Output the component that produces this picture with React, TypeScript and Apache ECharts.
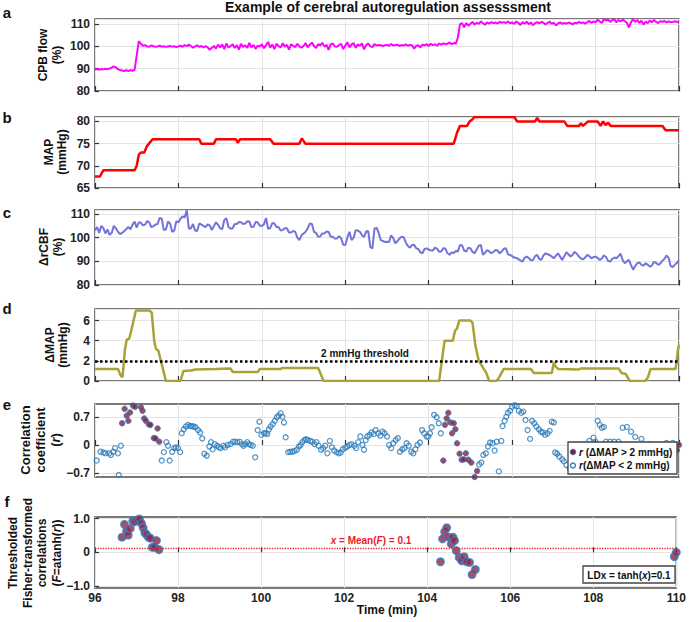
import React, { useEffect, useRef } from "react";
import * as echarts from "echarts";

const FONT = '"Liberation Sans", Arial, Helvetica, sans-serif';

const TIME_MIN = 96;
const TIME_MAX = 110;

// a: CPB flow (%), sampled every 0.05 min from 96
const cpbStep = 0.05;
const cpbFlow = [
  89.6, 89.8, 89.5, 89.9, 89.7, 90.0, 89.8, 90.1, 90.5, 91.0, 90.6, 89.8, 89.4, 89.2, 89.0, 89.3, 88.9, 89.4, 89.1, 89.5,
  96.0, 102.4, 101.2, 100.3, 100.6, 100.0, 99.9, 100.4, 100.1, 99.8, 100.0, 100.3, 99.9, 100.1, 99.8, 100.0, 100.2, 99.9, 100.1, 99.7,
  100.0, 100.3, 99.8, 100.6, 100.1, 100.8, 100.2, 99.4, 100.0, 100.5, 99.8, 100.2, 99.5, 100.1, 99.6, 98.5, 99.4, 100.2, 99.0, 100.8,
  99.6, 100.9, 98.8, 101.3, 99.5, 100.2, 101.0, 99.3, 100.6, 98.6, 101.2, 99.8, 100.5, 99.3, 101.6, 99.6, 100.7, 98.9, 100.4, 99.9,
  101.0, 99.2, 100.6, 102.0, 99.4, 100.9, 98.8, 101.2, 100.2, 99.5, 101.4, 99.9, 100.7, 98.6, 101.0, 100.3, 99.7, 101.2, 100.0, 99.4,
  100.2, 101.5, 99.6, 100.8, 101.7, 100.2, 99.3, 101.0, 100.5, 101.6, 99.9, 100.7, 98.4, 100.9, 101.3, 100.0, 99.8, 100.6, 101.2, 98.8,
  100.4, 101.8, 99.6, 100.9, 101.5, 99.3, 101.0, 100.2, 101.4, 98.7, 100.6, 101.3, 100.0, 99.7, 101.0, 100.4, 100.6, 100.5, 100.2, 100.5,
  100.7, 100.3, 101.1, 100.4, 100.6, 100.8, 100.2, 100.6, 100.4, 100.9, 100.3, 100.7, 100.5, 99.0, 100.2, 100.6, 99.5, 100.8, 100.5, 101.0,
  100.2, 101.2, 100.6, 101.0, 100.3, 101.3, 100.8, 101.4, 101.0, 101.2, 101.8, 101.0, 101.5, 101.3, 104.0, 110.0, 110.4, 108.6, 110.5, 109.3,
  110.2, 111.0, 109.8, 110.6, 110.1, 111.2, 110.4, 109.7, 110.8, 110.2, 110.9, 110.4, 110.7, 110.3, 111.0, 110.6, 110.9, 110.5, 111.2, 110.4,
  110.8, 110.1, 111.2, 110.5, 109.6, 110.9, 110.2, 111.1, 110.0, 110.7, 109.5, 110.4, 110.9, 110.3, 111.0, 110.6, 109.8, 110.5, 111.1, 110.2,
  110.6, 109.4, 110.3, 110.8, 110.1, 110.5, 110.2, 110.7, 110.4, 109.9, 110.6, 110.3, 111.0, 110.5, 110.8, 110.2, 110.9, 111.4, 110.6, 111.2,
  110.8, 112.0, 111.2, 110.5, 112.3, 111.6, 112.0, 111.0, 111.8, 112.2, 110.8, 111.9, 111.2, 112.0, 111.3, 110.6, 108.5, 110.9, 112.1, 111.0,
  111.8, 110.6, 111.5, 109.8, 111.2, 110.4, 111.6, 110.8, 111.9, 111.0, 110.5, 111.3, 111.0, 111.4, 110.8, 111.2, 111.0, 110.9, 111.3, 111.0,
  111.2,
];

// b: MAP (mmHg), step-wise [time, value]
const mapSeries = [
  [96.0, 67.6], [96.12, 67.6], [96.2, 69], [96.95, 69], [97.0, 70], [97.05, 72.5], [97.1, 73], [97.18, 73],
  [97.25, 74.5], [97.38, 76], [98.5, 76], [98.55, 75], [98.85, 75], [98.9, 76], [99.38, 76], [99.42, 75.2],
  [99.48, 76], [100.2, 76], [100.28, 75], [100.9, 75], [100.96, 76.2], [101.04, 75], [104.6, 75], [104.68, 77.5],
  [104.75, 79], [104.92, 79], [104.98, 80], [105.05, 80.5], [105.1, 81], [106.05, 81], [106.12, 80], [106.55, 80],
  [106.6, 80.8], [106.65, 80], [107.25, 80], [107.32, 79], [107.6, 79], [107.65, 79.6], [107.7, 79], [107.82, 80],
  [108.05, 80], [108.12, 79], [108.18, 80], [108.24, 79.2], [108.3, 79.7], [108.36, 79], [109.6, 79], [109.68, 78],
  [110.0, 78],
];

// c: ΔrCBF (%), sampled every 0.05 min from 96
const rcbfStep = 0.05;
const rcbf = [
  103, 104.5, 102, 105, 104, 101.8, 103.5, 101.2, 102, 105, 104, 102.5, 101.5, 102, 102.8, 103.6, 104.5, 103.5, 105.5, 106.8,
  104.2, 106.5, 106.3, 105.2, 105.5, 107, 106.5, 104.5, 104.8, 105.6, 105.8, 108.4, 108, 103.2, 103.5, 106.8, 106, 102.5, 103, 107,
  106.5, 108, 109, 108.5, 111.7, 103.8, 104, 105.8, 103, 102.8, 106, 105.5, 105, 104.4, 105.6, 105.2, 103.2, 104.8, 106.5, 105.5,
  104, 103.6, 107.5, 108.2, 104.5, 103.8, 104, 105.8, 105.8, 106.6, 106.5, 105.8, 106, 106.9, 106.8, 104.5, 104.6, 106.6, 106.5, 105,
  105, 105.6, 108.3, 103.8, 104, 106.2, 106, 104.5, 104.5, 103, 103.2, 104, 104, 102.2, 102.2, 102.8, 102.5, 100, 99, 101,
  101.8, 102.5, 104, 106, 105.8, 102.5, 102, 100.4, 100.5, 101.8, 101.8, 102.6, 102.4, 100.4, 100.4, 99.6, 99.7, 100.6, 99.8, 97,
  96.9, 100, 102.5, 99, 100, 103.2, 103, 102.5, 101, 100.3, 102.6, 102.8, 96, 95.5, 103.8, 104.2, 102, 99, 98.6, 98.2,
  98.3, 98.2, 101, 99.8, 97.6, 98.5, 99.7, 100.4, 100.2, 98, 96.5, 95.8, 96.9, 97, 95.5, 95.2, 93.8, 93.4, 95.2, 95.5,
  95, 94.6, 94.6, 95.8, 95.3, 94, 94.2, 95.5, 95.4, 93.4, 92.8, 93.8, 93.5, 94.4, 94.2, 96.9, 96.8, 94.5, 94.1, 95.8,
  95.5, 94, 93.4, 95, 96.6, 96.9, 92.8, 93.6, 94.8, 94.2, 93.4, 94, 94.8, 94.6, 93.4, 94.2, 95.3, 95.6, 93, 92.7,
  92.2, 91.6, 91.4, 91, 90.3, 89.9, 91.5, 92, 91.4, 90.4, 90.6, 92.2, 92.7, 91, 90.6, 92.5, 93.4, 93, 92.7, 92,
  91.3, 92.4, 93.4, 92, 90.6, 92.2, 93.8, 93, 92, 92.8, 94, 93.2, 92, 91.2, 90.8, 91.6, 92.7, 92.2, 91.3, 91.8,
  92, 91.4, 90.6, 91.2, 92.5, 91.8, 90.2, 89.9, 91, 91.6, 91.3, 92.2, 93.2, 90.5, 89.2, 90, 90.6, 88.4, 86.5, 88,
  89.2, 89.5, 88.5, 88.2, 89.2, 88.6, 87.8, 88.2, 89.8, 89.4, 88.5, 89, 90.2, 91, 92.5, 91.5, 88, 87.6, 88.5, 89.4,
  90.5,
];

// d: ΔMAP (mmHg) [time, value]
const dmapSeries = [
  [96.0, 1.2], [96.55, 1.2], [96.62, 0.5], [96.66, 0.4], [96.72, 3.2], [96.76, 4.1], [96.82, 4.2], [96.88, 5.2],
  [96.98, 7.0], [97.3, 7.0], [97.36, 6.8], [97.42, 4.0], [97.46, 3.2], [97.52, 3.0], [97.58, 2.0], [97.7, 0.0],
  [98.05, 0.0], [98.12, 1.0], [98.3, 1.05], [98.4, 1.15], [98.9, 1.2], [99.25, 1.25], [99.3, 0.9], [99.9, 0.9],
  [99.95, 1.2], [100.45, 1.2], [100.5, 1.3], [101.35, 1.3], [101.48, 0.0], [104.25, 0.0], [104.38, 4.0], [104.58, 4.0],
  [104.63, 5.0], [104.68, 5.2], [104.73, 6.0], [105.0, 6.0], [105.05, 5.8], [105.12, 3.5], [105.2, 2.0], [105.32, 1.2],
  [105.38, 0.8], [105.45, 0.0], [105.62, 0.0], [105.68, 0.3], [105.8, 1.2], [106.45, 1.2], [106.52, 0.8], [106.95, 0.8],
  [107.0, 1.8], [107.05, 1.4], [107.1, 1.2], [107.6, 1.15], [107.65, 1.25], [108.55, 1.25], [108.62, 0.8], [108.72, 0.7],
  [108.82, 0.0], [109.18, 0.0], [109.25, 0.3], [109.32, 1.2], [109.92, 1.2], [109.97, 3.0], [110.0, 3.6],
];
const THRESHOLD = 2;

// e: correlation coefficient r
const rLow = [
  [96.04, -0.39], [96.13, -0.17], [96.2, -0.19], [96.25, -0.21], [96.34, -0.21], [96.38, -0.25], [96.44, -0.17], [96.48, -0.08],
  [96.55, -0.21], [96.57, -0.75], [96.62, -0.02],
  [97.6, -0.39], [97.65, -0.18], [97.71, 0.07], [97.75, -0.02], [97.79, -0.39], [97.85, -0.17], [97.9, -0.08], [97.94, -0.06],
  [97.99, -0.08], [98.04, -0.18], [98.08, 0.29], [98.13, 0.39], [98.18, 0.46], [98.23, 0.5], [98.28, 0.47], [98.32, 0.47],
  [98.36, 0.46], [98.41, 0.44], [98.47, 0.37], [98.52, 0.31], [98.57, 0.16], [98.62, -0.22], [98.68, -0.27], [98.74, -0.04],
  [98.78, 0.07], [98.82, -0.11], [98.87, 0.02], [98.93, -0.02], [98.97, -0.06], [99.01, -0.08], [99.08, -0.02], [99.12, -0.06],
  [99.18, 0.0], [99.25, 0.02], [99.31, 0.08], [99.36, 0.08], [99.41, 0.07], [99.47, 0.08], [99.52, 0.02], [99.56, -0.02],
  [99.6, 0.02], [99.65, 0.07], [99.69, 0.02], [99.73, 0.0], [99.78, -0.02], [99.84, -0.31], [99.9, 0.37], [99.94, 0.58],
  [99.99, 0.25], [100.05, 0.29], [100.09, 0.29], [100.13, 0.27], [100.17, 0.39], [100.21, 0.46], [100.26, 0.52], [100.31, 0.6],
  [100.36, 0.69], [100.4, 0.73], [100.45, 0.79], [100.49, 0.7], [100.53, 0.56], [100.57, 0.19], [100.63, -0.18], [100.68, -0.17],
  [100.73, -0.17], [100.78, -0.15], [100.84, -0.12], [100.89, -0.04], [100.93, 0.0], [100.97, 0.07], [101.02, 0.12], [101.06, 0.14],
  [101.1, 0.12], [101.16, 0.1], [101.21, 0.08], [101.26, 0.02], [101.31, 0.07], [101.36, -0.02], [101.42, -0.12], [101.47, -0.08],
  [101.52, -0.02], [101.57, -0.21], [101.63, 0.1], [101.68, -0.06], [101.73, -0.14], [101.79, -0.18], [101.84, -0.21], [101.89, -0.19],
  [101.94, -0.11], [102.0, -0.07], [102.05, -0.04], [102.1, 0.0], [102.15, 0.02], [102.22, -0.02], [102.26, -0.08], [102.31, 0.07],
  [102.36, 0.21], [102.41, 0.0], [102.45, -0.12], [102.49, 0.12], [102.53, 0.21], [102.58, 0.25], [102.63, 0.31], [102.68, 0.27],
  [102.73, 0.37], [102.79, 0.29], [102.84, 0.23], [102.89, 0.33], [102.94, 0.29], [103.0, 0.21], [103.05, 0.0], [103.1, -0.08],
  [103.15, 0.04], [103.21, 0.12], [103.26, 0.17], [103.31, -0.17], [103.37, -0.11], [103.42, -0.08], [103.47, 0.04], [103.52, -0.02],
  [103.58, -0.17], [103.63, -0.21], [103.68, -0.11], [103.73, 0.0], [103.79, 0.06], [103.84, 0.37], [103.89, 0.29], [103.95, 0.21],
  [103.99, 0.21], [104.03, 0.29], [104.07, 0.44], [104.13, 0.75], [104.19, 0.69], [104.24, 0.54], [104.29, 0.29],
  [105.21, -0.49], [105.26, -0.44], [105.31, -0.25], [105.37, -0.21], [105.42, -0.04], [105.47, 0.06], [105.53, 0.04], [105.58, -0.14],
  [105.63, 0.08], [105.68, -0.66], [105.74, 0.1], [105.77, 0.47], [105.82, 0.6], [105.86, 0.7], [105.9, 0.8], [105.95, 0.85],
  [106.0, 0.95], [106.06, 0.99], [106.11, 0.97], [106.16, 0.85], [106.22, 0.8], [106.27, 0.83], [106.32, 0.62], [106.37, 0.37],
  [106.43, 0.15], [106.48, 0.6], [106.53, 0.54], [106.58, 0.46], [106.64, 0.39], [106.69, 0.33], [106.74, 0.31], [106.79, 0.25],
  [106.85, 0.29], [106.9, 0.35], [106.95, 0.58], [107.0, 0.56], [107.03, -0.19], [107.08, -0.22], [107.13, -0.29], [107.2, -0.36],
  [107.24, -0.41], [107.3, -0.5], [107.38, -0.58], [107.43, -0.58], [107.55, -0.45], [107.7, -0.3], [107.85, 0.1], [107.95, 0.18],
  [108.0, 0.08], [108.05, 0.6], [108.1, 0.5], [108.15, 0.43], [108.2, 0.45], [108.25, 0.08], [108.35, 0.08], [108.45, 0.08],
  [108.55, 0.08], [108.65, 0.43], [108.75, 0.45], [108.85, 0.33], [108.95, 0.2], [109.1, 0.15], [109.3, 0.02], [109.5, -0.15],
  [109.7, 0.05], [109.85, 0.05],
];
const rHigh = [
  [96.65, 0.54], [96.71, 0.9], [96.76, 0.73], [96.8, 0.6], [96.84, 0.81], [96.91, 0.98], [96.96, 0.95], [97.1, 0.94],
  [97.14, 0.85], [97.18, 0.66], [97.22, 0.6], [97.29, 0.51], [97.33, 0.5], [97.41, 0.17], [97.45, 0.16], [97.5, 0.41],
  [97.54, 0.08],
  [104.35, -0.39], [104.39, 0.5], [104.43, 0.66], [104.47, 0.8], [104.52, 0.56], [104.56, 0.29], [104.6, 0.54], [104.64, 0.39],
  [104.68, 0.04], [104.74, -0.22], [104.79, -0.37], [104.84, -0.36], [104.89, -0.21], [104.95, -0.37], [105.02, -0.44], [105.1, -0.8],
  [105.16, -0.65],
  [109.95, -0.13], [110.0, 0.0],
];

// f: thresholded Fisher-transformed correlations F = atanh(r)
const fisher = [
  [96.65, 0.45], [96.71, 0.83], [96.76, 0.63], [96.8, 0.51], [96.85, 0.71], [96.91, 0.93], [96.96, 0.91], [97.02, 0.96],
  [97.07, 0.99], [97.12, 0.86], [97.16, 0.73], [97.2, 0.58], [97.24, 0.53], [97.29, 0.45], [97.33, 0.42], [97.38, 0.15],
  [97.43, 0.15], [97.48, 0.35], [97.54, 0.08],
  [104.32, -0.28], [104.37, 0.4], [104.42, 0.61], [104.47, 0.73], [104.52, 0.45], [104.58, 0.25], [104.62, 0.45], [104.66, 0.35],
  [104.7, 0.05], [104.77, -0.15], [104.83, -0.25], [104.89, -0.13], [104.95, -0.28], [105.02, -0.3], [105.08, -0.66], [105.16, -0.51],
  [109.95, -0.13], [110.0, 0.0],
];
const MEAN_F = 0.13;

const E_TICKS = [-0.7, 0, 0.7];
const F_TICKS = [-1, 0, 1];

const GRIDS = [
  { top: 19, height: 72 },
  { top: 117, height: 71 },
  { top: 210, height: 75 },
  { top: 309, height: 72 },
  { top: 404, height: 73 },
  { top: 517, height: 71 },
];

const minusFmt = (digits: number) => (v: number) =>
  v === 0 ? "0" : (v < 0 ? "\u2212" : "") + Math.abs(v).toFixed(digits);

export default function App() {
  const ref = useRef<HTMLDivElement>(null);
  useEffect(() => {
    document.body.style.margin = "0";
    if (!ref.current) return;
    const chart = echarts.init(ref.current, undefined, { renderer: "svg" });

    const tickLabel = { fontSize: 12, fontWeight: "bold", color: "#222", fontFamily: FONT };
    const xAxes = GRIDS.map((_, i) => ({
      gridIndex: i,
      type: "value",
      min: TIME_MIN,
      max: TIME_MAX,
      interval: 2,
      axisLine: { show: false },
      axisTick: { show: true, inside: true, length: 5, lineStyle: { color: "#333", width: 1.2 } },
      axisLabel: { show: i === 5, margin: 4, ...tickLabel },
      splitLine: { show: true, lineStyle: { color: "#e4e4e4", width: 1 } },
    }));
    const yBase = (i: number) => ({
      gridIndex: i,
      type: "value",
      axisLine: { show: false },
      axisTick: { show: true, inside: true, length: 4, lineStyle: { color: "#333", width: 1.2 } },
      axisLabel: { margin: 5, ...tickLabel },
      splitLine: { show: true, lineStyle: { color: "#e4e4e4", width: 1 } },
    });
    const yAxes: any[] = [
      { ...yBase(0), min: 80, max: 112.3, interval: 10 },
      { ...yBase(1), min: 65, max: 81, interval: 5 },
      { ...yBase(2), min: 80, max: 111.7, interval: 10 },
      { ...yBase(3), min: 0, max: 7.15, interval: 2 },
      {
        ...yBase(4), min: -0.8, max: 1.02,
        axisTick: { ...yBase(4).axisTick, customValues: E_TICKS },
        axisLabel: { ...yBase(4).axisLabel, customValues: E_TICKS, formatter: minusFmt(1) },
      },
      {
        ...yBase(5), min: -1.06, max: 1.05,
        axisTick: { ...yBase(5).axisTick, customValues: F_TICKS },
        axisLabel: { ...yBase(5).axisLabel, customValues: F_TICKS, formatter: minusFmt(1) },
      },
    ];

    const ital = (size: number, color = "#111") => ({
      fontStyle: "italic", fontWeight: "bold", fontSize: size, fontFamily: FONT, fill: color, color,
    });
    const norm = (size: number, color = "#111") => ({
      fontStyle: "normal", fontWeight: "bold", fontSize: size, fontFamily: FONT, fill: color, color,
    });

    const text = (x: number, y: number, str: string, size: number, opts: any = {}) => ({
      type: "text",
      x,
      y,
      z: 100,
      rotation: opts.rotation || 0,
      style: {
        text: str,
        fontSize: size,
        fontWeight: "bold",
        fontFamily: FONT,
        fill: opts.color || "#111",
        align: opts.align || "center",
        verticalAlign: "middle",
        textAlign: opts.align || "center",
        textVerticalAlign: "middle",
        lineHeight: opts.lineHeight,
        rich: opts.rich,
      },
    });

    const R = Math.PI / 2;
    const graphic: any[] = [
      text(388, 7, "Example of cerebral autoregulation assesssment", 14),
      text(7, 12, "a", 15),
      text(7, 117, "b", 15),
      text(7, 212, "c", 15),
      text(7, 308, "d", 15),
      text(7, 404, "e", 15),
      text(7, 501, "f", 15),
      text(50, 55, "CPB flow\n(%)", 12, { rotation: R, lineHeight: 14 }),
      text(55, 152, "MAP\n(mmHg)", 12, { rotation: R, lineHeight: 13 }),
      text(51, 247, "\u0394rCBF\n(%)", 12, { rotation: R, lineHeight: 14 }),
      text(56, 345, "\u0394MAP\n(mmHg)", 12, { rotation: R, lineHeight: 13 }),
      text(40, 440, "{n|Correlation}\n{n|coefficient}\n{n|(}{i|r}{n|)}", 13, {
        rotation: R, lineHeight: 15,
        rich: { n: { ...norm(13), lineHeight: 15 }, i: { ...ital(13), lineHeight: 15 } },
      }),
      text(35, 553, "{n|Thresholded}\n{n|Fisher-transformed}\n{n|correlations}\n{n|(}{i|F}{n|=atanh(}{i|r}{n|))}", 12, {
        rotation: R, lineHeight: 14.5,
        rich: { n: { ...norm(12), lineHeight: 14.5 }, i: { ...ital(12), lineHeight: 14.5 } },
      }),
      text(365, 353, "2 mmHg threshold", 10),
      text(371, 540, "{i|x}{n| = Mean(}{i|F}{n|) = 0.1}", 10, {
        color: "#e8202a",
        rich: { i: ital(10, "#e8202a"), n: norm(10, "#e8202a") },
      }),
      text(387, 610, "Time (min)", 12),
      // legend of panel e
      {
        type: "rect", z: 100,
        shape: { x: 568, y: 442, width: 109, height: 32 },
        style: { fill: "#fff", stroke: "#444", lineWidth: 1.3 },
      },
      {
        type: "circle", z: 101,
        shape: { cx: 573, cy: 452, r: 2.8 },
        style: { fill: "#8c1c3c", stroke: "#2a7ab9", lineWidth: 1 },
      },
      text(579, 452, "{i|r}{n| (\u0394MAP > 2 mmHg)}", 10, {
        align: "left", rich: { i: ital(10), n: norm(10) },
      }),
      {
        type: "circle", z: 101,
        shape: { cx: 573, cy: 465.5, r: 2.5 },
        style: { fill: "none", stroke: "#2a7ab9", lineWidth: 1.3 },
      },
      text(579, 465.5, "{i|r}{n|(\u0394MAP < 2 mmHg)}", 10, {
        align: "left", rich: { i: ital(10), n: norm(10) },
      }),
      // legend of panel f
      {
        type: "rect", z: 100,
        shape: { x: 583, y: 566, width: 92, height: 17 },
        style: { fill: "#fff", stroke: "#444", lineWidth: 1.3 },
      },
      text(629, 575, "{n|LDx = tanh(}{i|x}{n|)=0.1}", 10, {
        rich: { i: ital(10), n: norm(10) },
      }),
    ];

    const option: any = {
      animation: false,
      backgroundColor: "#fff",
      textStyle: { fontFamily: FONT },
      grid: GRIDS.map((g) => ({
        left: 95, right: 10, top: g.top, height: g.height,
        show: true, borderColor: "#4d4d4d", borderWidth: 1.5, backgroundColor: "#fff",
      })),
      xAxis: xAxes,
      yAxis: yAxes,
      graphic,
      series: [
        {
          type: "line", xAxisIndex: 0, yAxisIndex: 0, showSymbol: false,
          data: cpbFlow.map((v, i) => [TIME_MIN + i * cpbStep, v]),
          lineStyle: { color: "#ff00ff", width: 2 }, itemStyle: { color: "#ff00ff" },
        },
        {
          type: "line", xAxisIndex: 1, yAxisIndex: 1, showSymbol: false, data: mapSeries,
          lineStyle: { color: "#ff0000", width: 2.5 }, itemStyle: { color: "#ff0000" },
        },
        {
          type: "line", xAxisIndex: 2, yAxisIndex: 2, showSymbol: false,
          data: rcbf.map((v, i) => [TIME_MIN + i * rcbfStep, v]),
          lineStyle: { color: "#7373d9", width: 2 }, itemStyle: { color: "#7373d9" },
        },
        {
          type: "line", xAxisIndex: 3, yAxisIndex: 3, showSymbol: false, data: dmapSeries,
          lineStyle: { color: "#a9a236", width: 2.5 }, itemStyle: { color: "#a9a236" },
          markLine: {
            silent: true, symbol: "none", label: { show: false },
            lineStyle: { color: "#000", type: "dotted", width: 2.5 },
            data: [{ yAxis: THRESHOLD }],
          },
        },
        {
          type: "scatter", xAxisIndex: 4, yAxisIndex: 4, data: rLow, symbolSize: 5,
          itemStyle: { color: "rgba(255,255,255,0)", borderColor: "#2a7ab9", borderWidth: 1.3 },
        },
        {
          type: "scatter", xAxisIndex: 4, yAxisIndex: 4, data: rHigh, symbolSize: 5.5,
          itemStyle: { color: "#8c1c3c", borderColor: "#2a7ab9", borderWidth: 1 },
        },
        {
          type: "scatter", xAxisIndex: 5, yAxisIndex: 5, data: fisher, symbolSize: 7.5,
          itemStyle: { color: "#9a1f40", borderColor: "#2f80c2", borderWidth: 1.5 },
          markLine: {
            silent: true, symbol: "none", label: { show: false },
            lineStyle: { color: "#e8202a", type: "dotted", width: 1.3 },
            data: [{ yAxis: MEAN_F }],
          },
        },
      ],
    };
    chart.setOption(option);
    return () => chart.dispose();
  }, []);
  return (
    <div
      ref={ref}
      style={{ width: 689, height: 622, position: "absolute", left: 0, top: 0, background: "#fff" }}
    />
  );
}
